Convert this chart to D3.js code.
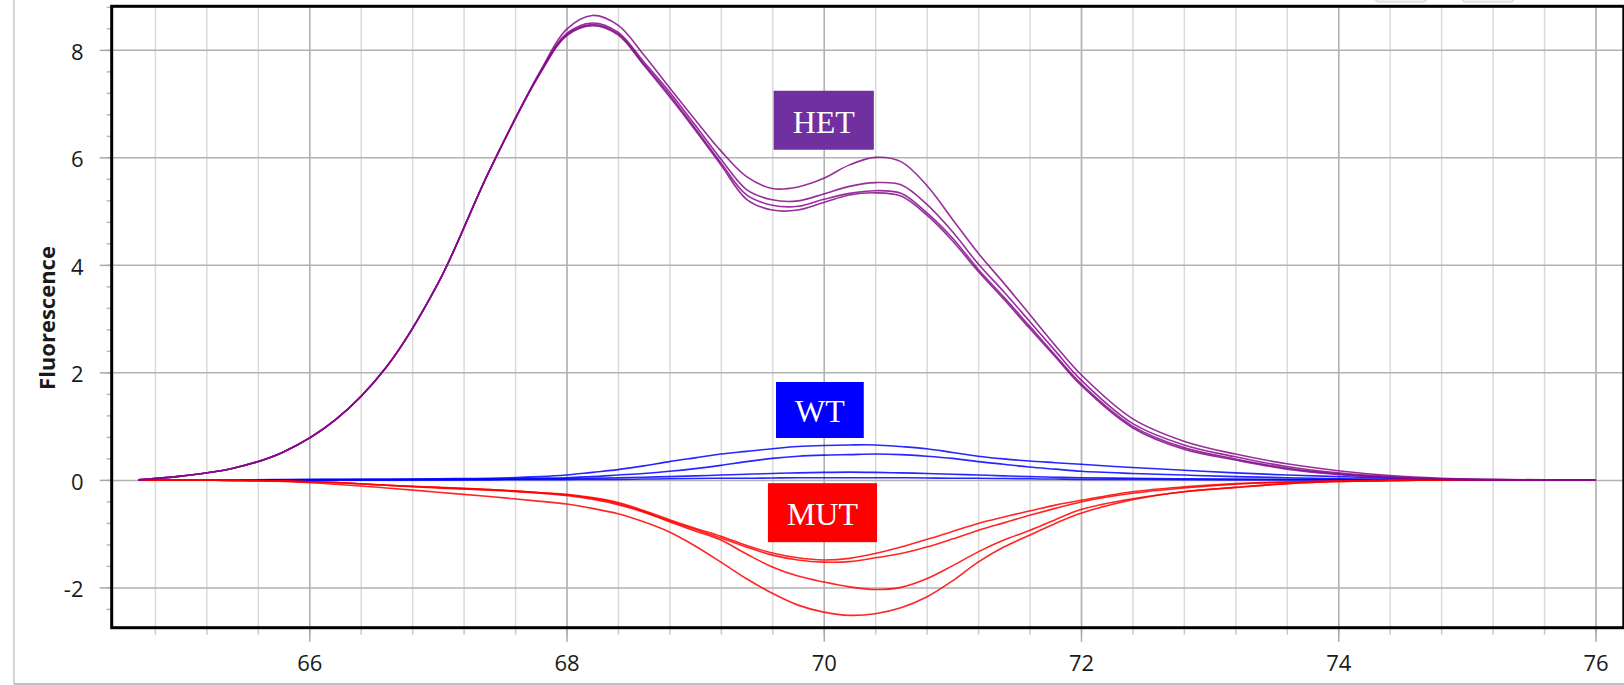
<!DOCTYPE html>
<html>
<head>
<meta charset="utf-8">
<script src="https://cdnjs.cloudflare.com/ajax/libs/d3/7.8.5/d3.min.js"></script>
<style>
body { margin: 0; background: #fff; overflow: hidden; }
svg { display: block; }
.axis text { font-family: "Open Sans", "Noto Sans", sans-serif; font-size: 22px; fill: #1a1a1a; }
.ylabel { font-family: "Open Sans", "Noto Sans", sans-serif; font-size: 22px; font-weight: bold; fill: #1a1a1a; }
.tag { font-family: "Liberation Serif", "Times New Roman", serif; font-size: 32px; fill: #fff; }
</style>
</head>
<body>
<svg id="chart" width="1624" height="685"></svg>
<script>
// melt curves (derivative fluorescence vs temperature)
var temps = [64.67, 65.0, 65.4, 65.8, 66.2, 66.6, 67.0, 67.4, 67.8, 68.0, 68.2, 68.4, 68.6, 68.8, 69.0, 69.2, 69.4, 69.6, 69.8, 70.0,
             70.2, 70.4, 70.6, 70.8, 71.0, 71.2, 71.4, 71.6, 71.8, 72.0, 72.4, 72.8, 73.2, 73.6, 74.0, 74.4, 74.8, 75.2, 75.6, 76.0];

var het1 = [0, 0.07, 0.21, 0.52, 1.11, 2.10, 3.65, 5.75, 7.62, 8.38, 8.64, 8.46, 7.91, 7.30, 6.70, 6.12, 5.64, 5.42, 5.45, 5.61,
            5.86, 6.00, 5.92, 5.48, 4.85, 4.22, 3.66, 3.08, 2.50, 1.96, 1.14, 0.72, 0.48, 0.30, 0.17, 0.08, 0.03, 0.01, 0, 0];
var het2 = [0, 0.07, 0.21, 0.52, 1.11, 2.10, 3.65, 5.75, 7.60, 8.30, 8.50, 8.33, 7.78, 7.22, 6.60, 5.97, 5.40, 5.21, 5.19, 5.32,
            5.46, 5.53, 5.49, 5.13, 4.62, 4.02, 3.50, 2.95, 2.40, 1.86, 1.05, 0.65, 0.43, 0.25, 0.13, 0.06, 0.02, 0.005, 0, 0];
var het3 = [0, 0.07, 0.21, 0.52, 1.11, 2.10, 3.65, 5.75, 7.59, 8.28, 8.47, 8.30, 7.74, 7.17, 6.54, 5.90, 5.30, 5.11, 5.09, 5.22,
            5.33, 5.38, 5.33, 4.97, 4.50, 3.92, 3.40, 2.86, 2.32, 1.79, 1.00, 0.60, 0.39, 0.22, 0.11, 0.05, 0.015, 0, 0, 0];
var het4 = [0, 0.07, 0.21, 0.52, 1.11, 2.10, 3.65, 5.75, 7.58, 8.26, 8.45, 8.28, 7.72, 7.13, 6.51, 5.86, 5.22, 5.02, 5.02, 5.16,
            5.30, 5.34, 5.28, 4.93, 4.45, 3.88, 3.36, 2.82, 2.29, 1.76, 0.97, 0.57, 0.37, 0.20, 0.10, 0.04, 0.01, 0, 0, 0];

var wt1 = [0, 0, 0, 0.005, 0.01, 0.01, 0.02, 0.03, 0.06, 0.09, 0.14, 0.19, 0.26, 0.34, 0.41, 0.48, 0.53, 0.58, 0.62, 0.64,
           0.65, 0.65, 0.62, 0.58, 0.51, 0.44, 0.39, 0.35, 0.32, 0.29, 0.23, 0.18, 0.13, 0.09, 0.06, 0.03, 0.01, 0, 0, 0];
var wt2 = [0, 0, 0, 0, 0.005, 0.01, 0.01, 0.015, 0.03, 0.04, 0.06, 0.09, 0.12, 0.16, 0.21, 0.27, 0.34, 0.40, 0.44, 0.46,
           0.47, 0.48, 0.47, 0.44, 0.40, 0.34, 0.29, 0.24, 0.20, 0.16, 0.12, 0.09, 0.06, 0.04, 0.02, 0.01, 0.005, 0, 0, 0];
var wt3 = [0, 0, 0, 0, 0, 0, 0.005, 0.01, 0.015, 0.02, 0.03, 0.04, 0.05, 0.06, 0.075, 0.09, 0.105, 0.12, 0.13, 0.14,
           0.145, 0.14, 0.13, 0.12, 0.105, 0.09, 0.075, 0.06, 0.05, 0.04, 0.03, 0.02, 0.015, 0.01, 0.005, 0, 0, 0, 0, 0];
var wt4 = [0, 0, 0, 0, 0, 0, 0, 0, 0.005, 0.005, 0.01, 0.01, 0.015, 0.02, 0.025, 0.03, 0.03, 0.035, 0.04, 0.04,
           0.04, 0.04, 0.04, 0.035, 0.03, 0.03, 0.025, 0.02, 0.015, 0.01, 0.01, 0.005, 0, 0, 0, 0, 0, 0, 0, 0];

var mut1 = [0, -0.005, -0.01, -0.03, -0.08, -0.15, -0.23, -0.31, -0.40, -0.45, -0.53, -0.63, -0.78, -0.97, -1.23, -1.53, -1.84, -2.11, -2.33, -2.46,
            -2.52, -2.49, -2.38, -2.18, -1.88, -1.53, -1.25, -1.03, -0.81, -0.62, -0.37, -0.22, -0.14, -0.07, -0.03, -0.01, 0, 0, 0, 0];
var mut2 = [0, -0.005, -0.01, -0.02, -0.05, -0.10, -0.15, -0.19, -0.25, -0.29, -0.36, -0.46, -0.60, -0.78, -0.95, -1.12, -1.38, -1.62, -1.79, -1.90,
            -1.99, -2.04, -2.00, -1.84, -1.60, -1.34, -1.12, -0.94, -0.74, -0.55, -0.35, -0.22, -0.14, -0.07, -0.03, -0.01, 0, 0, 0, 0];
var mut3 = [0, -0.005, -0.01, -0.02, -0.05, -0.10, -0.14, -0.18, -0.24, -0.27, -0.33, -0.42, -0.57, -0.74, -0.90, -1.05, -1.22, -1.36, -1.45, -1.49,
            -1.46, -1.37, -1.25, -1.11, -0.96, -0.81, -0.69, -0.58, -0.47, -0.38, -0.22, -0.13, -0.07, -0.04, -0.02, -0.01, 0, 0, 0, 0];
var mut4 = [0, -0.005, -0.01, -0.02, -0.05, -0.10, -0.14, -0.18, -0.24, -0.28, -0.34, -0.44, -0.59, -0.76, -0.92, -1.08, -1.25, -1.40, -1.49, -1.53,
            -1.52, -1.45, -1.37, -1.25, -1.10, -0.94, -0.80, -0.66, -0.53, -0.41, -0.25, -0.15, -0.08, -0.04, -0.02, -0.01, 0, 0, 0, 0];

var xTicks = [66, 68, 70, 72, 74, 76];
var yTicks = [-2, 0, 2, 4, 6, 8];

var tagText = ["HET", "WT", "MUT"];
var tagTemp = [70.0, 69.97, 69.99];
var tagValue = [6.69, 1.30, -0.61];
var tagColor = ["#7030a0", "#0000ff", "#ff0000"];

var svg = d3.select("#chart"),
    margin = {top: 6.3, right: 1.5, bottom: 57.3, left: 111.7},
    width = 1624 - margin.left - margin.right,
    height = 685 - margin.top - margin.bottom;

// panel edges
svg.append("line").attr("x1", 14).attr("x2", 14).attr("y1", 0).attr("y2", 684)
    .attr("stroke", "#d4d4d4").attr("stroke-width", 2);
svg.append("line").attr("x1", 14).attr("x2", 1624).attr("y1", 684).attr("y2", 684)
    .attr("stroke", "#ababab").attr("stroke-width", 1.5);
[1375, 1462].forEach(function(bx) {
    svg.append("rect").attr("x", bx).attr("y", -12).attr("width", 52).attr("height", 14)
        .attr("rx", 4).attr("fill", "#f2f2f2").attr("stroke", "#d0d0d0");
});

var g = svg.append("g")
    .attr("transform", "translate(" + margin.left + "," + margin.top + ")");

var x = d3.scaleLinear().domain([64.464, 76.21]).range([0, width]);
var y = d3.scaleLinear().domain([-2.75, 8.81]).range([height, 0]);

var xMinor = d3.range(64.8, 76.01, 0.4).map(function(d) { return +d.toFixed(1); });
var yMinor = d3.range(-2.4, 8.81, 0.4).map(function(d) { return +d.toFixed(1); });

function styleGrid(sel, color) {
    sel.select(".domain").remove();
    sel.selectAll("line").attr("stroke", color).attr("stroke-width", 1.5);
}

// grid
g.append("g")
    .attr("transform", "translate(0," + height + ")")
    .call(d3.axisBottom(x).tickValues(xMinor).tickSize(-height).tickFormat(""))
    .call(styleGrid, "#dadada");
g.append("g")
    .attr("transform", "translate(0," + height + ")")
    .call(d3.axisBottom(x).tickValues(xTicks).tickSize(-height).tickFormat(""))
    .call(styleGrid, "#b2b2b2");
g.append("g")
    .call(d3.axisLeft(y).tickValues(yTicks).tickSize(-width).tickFormat(""))
    .call(styleGrid, "#b2b2b2");

// outer ticks
g.append("g")
    .attr("transform", "translate(0," + height + ")")
    .call(d3.axisBottom(x).tickValues(xMinor).tickSize(7).tickFormat(""))
    .call(styleGrid, "#c8c8c8");
g.append("g")
    .call(d3.axisLeft(y).tickValues(yMinor).tickSize(5).tickFormat(""))
    .call(styleGrid, "#b8b8b8");

var xAxis = g.append("g")
    .attr("class", "axis")
    .attr("transform", "translate(0," + height + ")")
    .call(d3.axisBottom(x).tickValues(xTicks).tickSize(14).tickFormat(function(d) { return String(d); }));
xAxis.select(".domain").remove();
xAxis.selectAll("line").attr("stroke", "#a8a8a8").attr("stroke-width", 1.5);
xAxis.selectAll("text").attr("y", 43.5).attr("dy", null);

var yAxis = g.append("g")
    .attr("class", "axis")
    .call(d3.axisLeft(y).tickValues(yTicks).tickSize(12).tickFormat(function(d) { return String(d); }));
yAxis.select(".domain").remove();
yAxis.selectAll("line").attr("stroke", "#a8a8a8").attr("stroke-width", 1.5);
yAxis.selectAll("text").attr("x", -28.2).attr("y", 1.5).attr("dy", "0.36em");

// y title
svg.append("text")
    .attr("class", "ylabel")
    .attr("transform", "translate(55,318) rotate(-90)")
    .attr("text-anchor", "middle")
    .text("Fluorescence");

// curves
var line = d3.line()
    .x(function(d, i) { return x(temps[i]); })
    .y(function(d) { return y(d); })
    .curve(d3.curveCatmullRom.alpha(0.5));

var groups = [
    {color: "#0000ff", series: [wt4, wt3, wt2, wt1]},
    {color: "#ff0000", series: [mut1, mut2, mut3, mut4]},
    {color: "#850a8a", series: [het4, het3, het2, het1]}
];

groups.forEach(function(grp) {
    g.selectAll(null)
        .data(grp.series)
        .enter().append("path")
        .attr("d", line)
        .attr("fill", "none")
        .attr("stroke", grp.color)
        .attr("stroke-opacity", 0.85)
        .attr("stroke-width", 1.6);
});

// frame
g.append("rect")
    .attr("x", 0).attr("y", 0)
    .attr("width", width + 1.3).attr("height", height)
    .attr("fill", "none").attr("stroke", "#000").attr("stroke-width", 3);

// group tags
tagText.forEach(function(t, i) {
    var tg = g.append("g")
        .attr("transform", "translate(" + x(tagTemp[i]) + "," + y(tagValue[i]) + ")");
    var rect = tg.append("rect").attr("fill", tagColor[i]);
    var txt = tg.append("text")
        .attr("class", "tag")
        .attr("text-anchor", "middle")
        .attr("y", 12.5)
        .text(t);
    var w = txt.node().getComputedTextLength() + 38;
    var h = i === 1 ? 56 : 59;
    rect.attr("x", -w / 2).attr("y", -h / 2).attr("width", w).attr("height", h);
});
</script>
</body>
</html>
